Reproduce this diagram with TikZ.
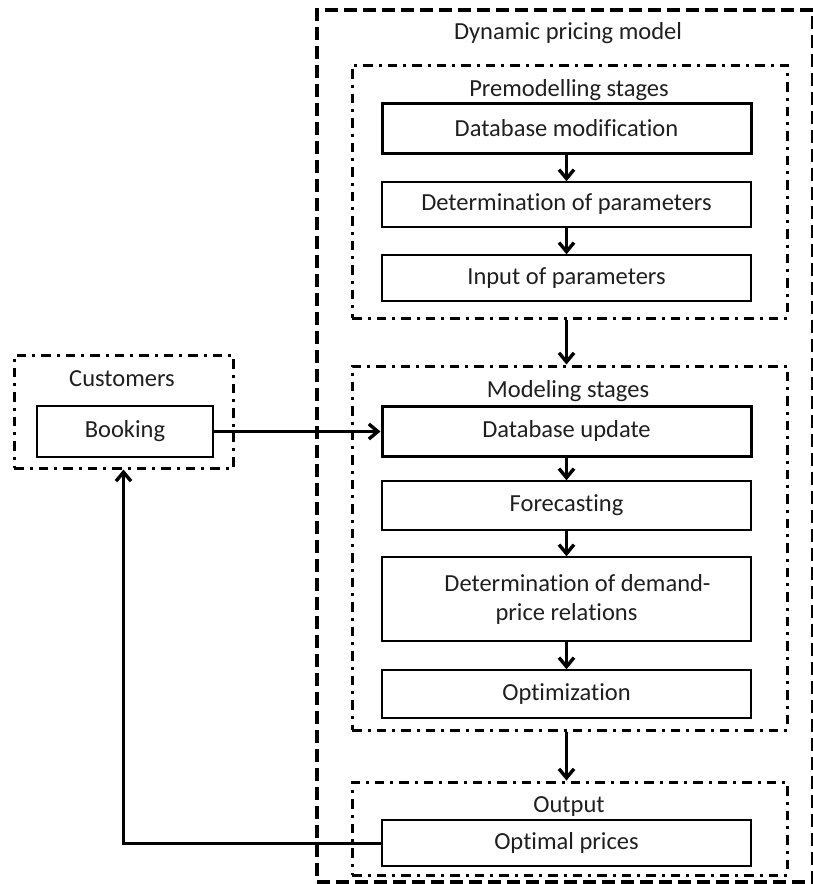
\documentclass[tikz,border=0pt]{standalone}
\usepackage{fontspec}
\setmainfont{Carlito}[Ligatures=NoCommon]
\usetikzlibrary{arrows.meta}
\begin{document}
\begin{tikzpicture}[x=1pt,y=-1pt,
  every node/.style={font=\fontsize{24.5}{29}\selectfont, text=black!88},
  outerbox/.style={draw, line width=3.5pt, dash pattern=on 13pt off 6pt, inner sep=0pt},
  groupbox/.style={draw, line width=3pt, dash pattern=on 9.5pt off 6pt on 3pt off 6pt, inner sep=0pt},
  stepbox/.style={draw, line width=1.5pt, minimum width=369pt, inner sep=0pt, align=center},
  keybox/.style={stepbox, line width=3pt},
  arr/.style={line width=3pt, -{Straight Barb[length=9pt,width=15pt,line width=3.4pt]}},
  lbl/.style={inner sep=0pt}
]
\useasboundingbox (0,0) rectangle (812,884);
\node[outerbox, minimum width=496pt, minimum height=872pt] (outer) at (565,446) {};
\node[lbl] (tdyn) at (568,33) {Dynamic pricing model};

\node[groupbox, minimum width=435pt, minimum height=253pt] (pre) at (569.5,191.5) {};
\node[lbl] (tpre) at (569,90) {Premodelling stages};
\node[keybox, minimum height=50pt] (dbm) at (566.5,128) {Database modification};
\node[stepbox, minimum height=45pt] (det) at (566.5,204.5) {Determination of parameters};
\node[stepbox, minimum height=46pt] (inp) at (566.5,278) {Input of parameters};

\node[groupbox, minimum width=435pt, minimum height=364pt] (mod) at (569.5,548) {};
\node[lbl] (tmod) at (568,391) {Modeling stages};
\node[keybox, minimum height=50pt] (dbu) at (566.5,431) {Database update};
\node[stepbox, minimum height=49pt] (fc) at (566.5,505.5) {Forecasting};
\node[stepbox, minimum height=84pt] (dpr) at (566.5,599) {\hspace*{22pt}Determination of demand-\\price relations};
\node[stepbox, minimum height=48pt] (optz) at (566.5,694) {Optimization};

\node[groupbox, minimum width=435pt, minimum height=93pt] (out) at (569.5,828.5) {};
\node[lbl] (tout) at (569,807) {Output};
\node[stepbox, minimum height=46pt] (opt) at (566.5,843) {Optimal prices};

\node[groupbox, minimum width=219pt, minimum height=113pt] (cust) at (123.5,411.5) {};
\node[lbl] (tcust) at (122,379) {Customers};
\node[stepbox, minimum width=176pt, minimum height=51pt] (book) at (125,431.5) {Booking};

\draw[arr] (dbm) -- (det);
\draw[arr] (det) -- (inp);
\draw[arr] (dbu) -- (fc);
\draw[arr] (fc) -- (dpr);
\draw[arr] (dpr) -- (optz);
\draw[arr] (inp.south |- pre.south) -- (dbu.north |- mod.north);
\draw[arr] (optz.south |- mod.south) -- (opt.north |- out.north);
\draw[arr] (book.east) -- (book.east -| dbu.west);
\draw[arr] (opt.west) -| (cust.south);
\end{tikzpicture}
\end{document}
